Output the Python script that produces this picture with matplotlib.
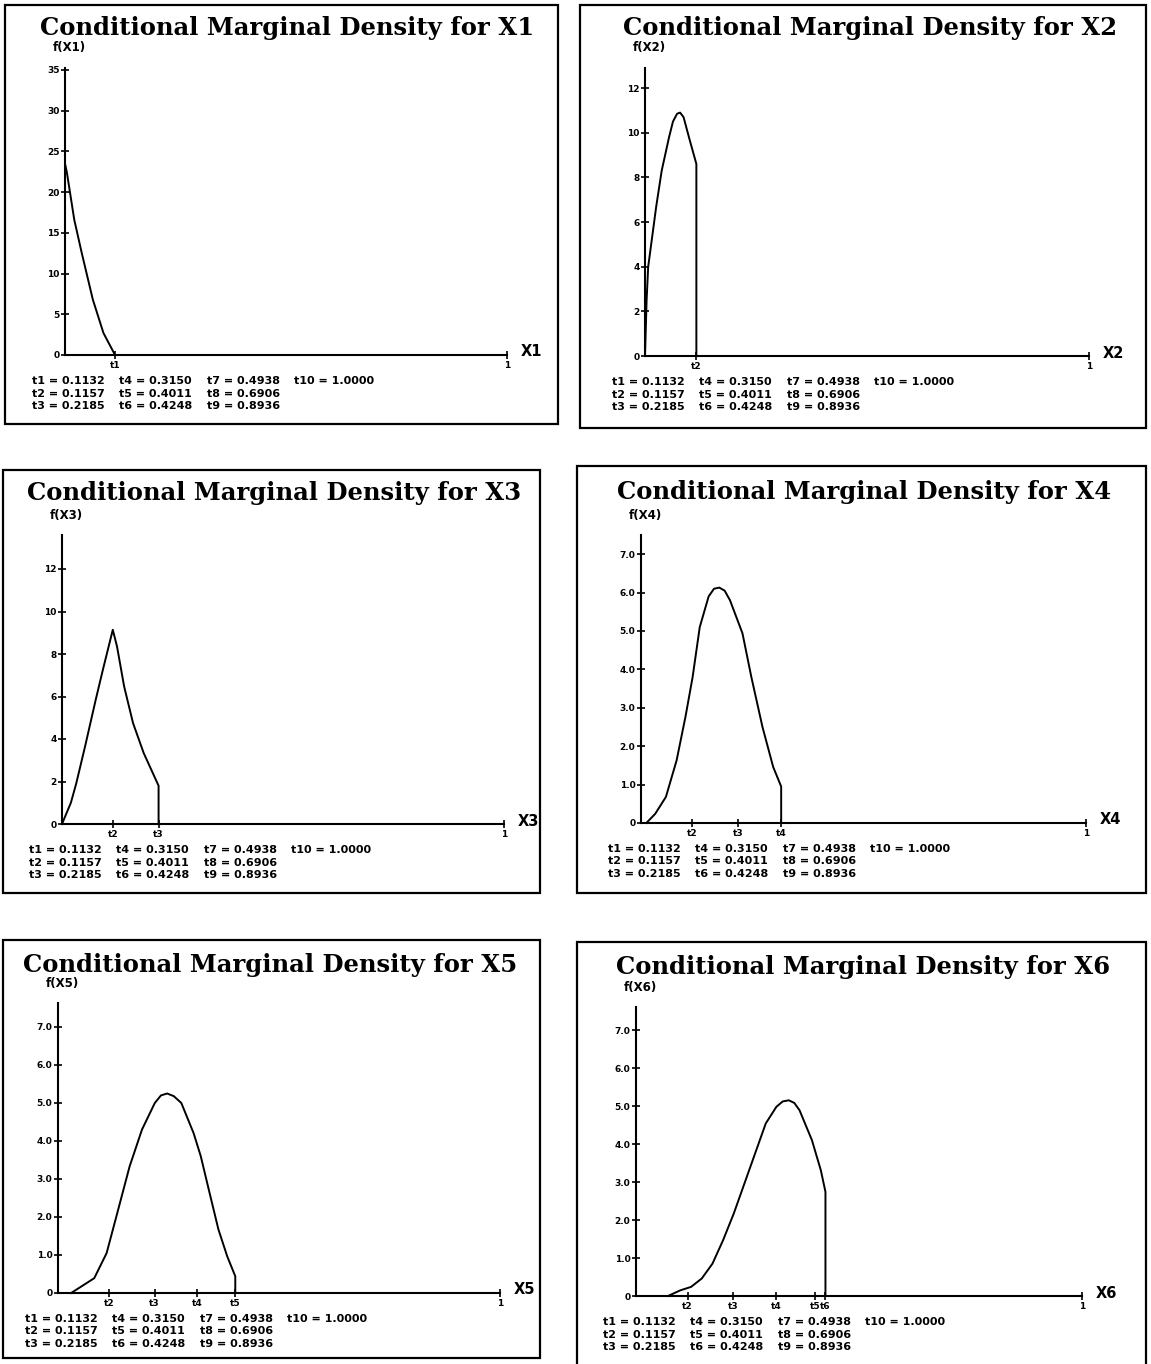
import matplotlib
matplotlib.use("Agg")
import matplotlib.pyplot as plt
from matplotlib.patches import Rectangle

W, H = 1151, 1364

# knot values printed under every panel
t_names = ['t1', 't2', 't3', 't4', 't5', 't6', 't7', 't8', 't9', 't10']
t_values = [0.1132, 0.1157, 0.2185, 0.3150, 0.4011, 0.4248, 0.4938, 0.6906, 0.8936, 1.0000]

# density curves
x1_x = [0.0, 0.0, 0.004, 0.021, 0.038, 0.063, 0.087, 0.1132]
x1_y = [0.0, 23.5, 22.5, 16.6, 12.5, 6.8, 2.7, 0.0]

x2_x = [0.0, 0.0036, 0.0072, 0.0253, 0.0376, 0.0542, 0.063, 0.0723, 0.079, 0.0868, 0.101, 0.1157, 0.1157]
x2_y = [0.0, 2.5, 4.0, 6.7, 8.3, 9.8, 10.5, 10.85, 10.9, 10.7, 9.65, 8.6, 0.0]

x3_x = [0.0, 0.0201, 0.0321, 0.0522, 0.0763, 0.0924, 0.1149, 0.1245, 0.1406, 0.1607, 0.1848, 0.2185, 0.2185]
x3_y = [0.0, 1.0, 1.9, 3.65, 5.85, 7.25, 9.14, 8.35, 6.47, 4.75, 3.34, 1.8, 0.0]

x4_x = [0.012, 0.032, 0.056, 0.080, 0.100, 0.116, 0.132, 0.152, 0.164, 0.176, 0.188, 0.200, 0.228, 0.248, 0.273, 0.297, 0.315, 0.315]
x4_y = [0.0, 0.24, 0.68, 1.63, 2.77, 3.8, 5.1, 5.9, 6.1, 6.13, 6.05, 5.8, 4.94, 3.8, 2.5, 1.46, 0.95, 0.0]

x5_x = [0.0297, 0.0539, 0.082, 0.110, 0.134, 0.162, 0.190, 0.219, 0.233, 0.247, 0.262, 0.279, 0.307, 0.323, 0.343, 0.363, 0.383, 0.4011, 0.4011]
x5_y = [0.0, 0.18, 0.39, 1.05, 2.1, 3.33, 4.3, 5.0, 5.2, 5.25, 5.18, 5.0, 4.2, 3.6, 2.63, 1.67, 0.96, 0.44, 0.0]

x6_x = [0.0717, 0.0996, 0.1235, 0.1474, 0.1714, 0.1953, 0.2192, 0.2431, 0.267, 0.2909, 0.3148, 0.329, 0.3427, 0.355, 0.3666, 0.3945, 0.4144, 0.4248, 0.4248]
x6_y = [0.0, 0.15, 0.24, 0.46, 0.85, 1.47, 2.17, 2.96, 3.75, 4.54, 4.98, 5.12, 5.15, 5.08, 4.89, 4.1, 3.31, 2.74, 0.0]

# which knots are marked on each x axis
x1_knots = [0]
x2_knots = [1]
x3_knots = [1, 2]
x4_knots = [1, 2, 3]
x5_knots = [1, 2, 3, 4]
x6_knots = [1, 2, 3, 4, 5]

y_ticks_big = [0, 5, 10, 15, 20, 25, 30, 35]
y_ticks_mid = [0, 2, 4, 6, 8, 10, 12]
y_ticks_small = [0, 1, 2, 3, 4, 5, 6, 7]


def fx(x):
    return x / W


def fy(y):
    return 1 - y / H


fig = plt.figure(figsize=(W / 100, H / 100), dpi=100)


def panel(n, box, origin, xend, ppu, ytop, xs, ys, knots, yticks, ylabels, title_xy):
    left, top, right, bottom = box
    fig.add_artist(Rectangle((fx(left), fy(bottom)), (right - left) / W, (bottom - top) / H,
                             transform=fig.transFigure, fill=False, lw=1.6, color='black'))
    x0, y0 = origin
    ax = fig.add_axes([fx(x0), fy(y0), (xend - x0) / W, ytop * ppu / H])
    ax.plot(xs, ys, color='black', lw=1.4, clip_on=False)
    ax.set_xlim(0, 1)
    ax.set_ylim(0, ytop)
    for s in ['top', 'right']:
        ax.spines[s].set_visible(False)
    for s in ['left', 'bottom']:
        ax.spines[s].set_linewidth(1.5)

    ax.set_xticks([t_values[k] for k in knots] + [1.0])
    ax.set_xticklabels([t_names[k] for k in knots] + ['1'], fontsize=6.5, fontweight='bold')
    ax.set_yticks(yticks)
    ax.set_yticklabels(ylabels, fontsize=6.5, fontweight='bold')
    ax.tick_params(direction='inout', length=6, width=1.2, pad=1)

    ax.annotate(f'X{n}', xy=(1, 0), xycoords='axes fraction', xytext=(14, 3),
                textcoords='offset pixels', ha='left', va='center', fontsize=10.5, fontweight='bold')
    ax.annotate(f'f(X{n})', xy=(0, 1), xycoords='axes fraction', xytext=(-12, 20),
                textcoords='offset pixels', ha='left', va='center', fontsize=8.5, fontweight='bold')

    fig.text(fx(title_xy[0]), fy(title_xy[1]), f'Conditional Marginal Density for X{n}',
             ha='center', va='center', family='DejaVu Serif', fontsize=17.5, fontweight='bold')

    # knot table under the axis
    cols = [0, 87, 175, 262]
    rows = [[0, 3, 6, 9], [1, 4, 7], [2, 5, 8]]
    for r, row in enumerate(rows):
        for c, k in enumerate(row):
            fig.text(fx(x0 - 33 + cols[c]), fy(y0 + 26 + 12.5 * r),
                     f'{t_names[k]} = {t_values[k]:.4f}',
                     ha='left', va='center', fontsize=8.0, fontweight='bold')


panel(1, (5, 5, 558, 424), (65, 355), 507, 8.143, 35.3, x1_x, x1_y, x1_knots,
      y_ticks_big, [str(v) for v in y_ticks_big], (287, 28))
panel(2, (580, 5, 1146, 428), (645, 356), 1089, 22.33, 12.9, x2_x, x2_y, x2_knots,
      y_ticks_mid, [str(v) for v in y_ticks_mid], (870, 28))
panel(3, (3, 470, 540, 893), (62, 824), 504, 21.25, 13.6, x3_x, x3_y, x3_knots,
      y_ticks_mid, [str(v) for v in y_ticks_mid], (274, 493))
panel(4, (577, 466, 1146, 893), (641, 823), 1086, 38.4, 7.5, x4_x, x4_y, x4_knots,
      y_ticks_small, ['0'] + [f'{v:.1f}' for v in y_ticks_small[1:]], (864, 492))
panel(5, (3, 940, 540, 1358), (58, 1293), 500, 38.0, 7.63, x5_x, x5_y, x5_knots,
      y_ticks_small, ['0'] + [f'{v:.1f}' for v in y_ticks_small[1:]], (270, 965))
panel(6, (577, 942, 1146, 1370), (636, 1296), 1082, 38.0, 7.6, x6_x, x6_y, x6_knots,
      y_ticks_small, ['0'] + [f'{v:.1f}' for v in y_ticks_small[1:]], (863, 967))

fig.savefig('out.png', dpi=100)
